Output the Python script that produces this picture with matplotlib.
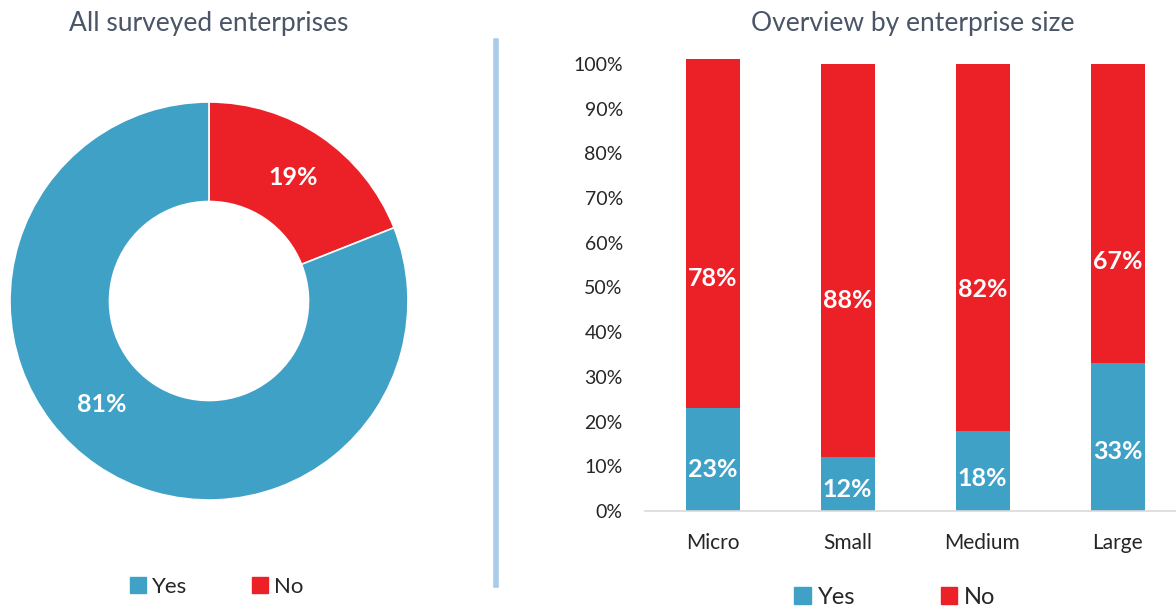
import numpy as np
import matplotlib.pyplot as plt
from matplotlib.patches import Patch

# overall share of enterprises
overall_labels = ["Yes", "No"]
overall_values = [81, 19]

# split by enterprise size
sizes = ["Micro", "Small", "Medium", "Large"]
yes_share = [23, 12, 18, 33]
no_share = [78, 88, 82, 67]

BLUE = "#40a1c7"
RED = "#ec2128"
TITLE_COLOR = "#4a5568"
TEXT_COLOR = "#262626"

plt.rcParams["font.family"] = ["Lato", "DejaVu Sans"]

W, H = 1176, 607
fig = plt.figure(figsize=(W / 100, H / 100), dpi=100)


def px_axes(left, top, width, height):
    return fig.add_axes([left / W, 1 - (top + height) / H, width / W, height / H])


# donut
ax1 = px_axes(10, 102, 398, 398)
ax1.pie(overall_values[::-1], colors=[RED, BLUE], startangle=90,
        counterclock=False, radius=1.0,
        wedgeprops=dict(width=0.5, edgecolor="white", linewidth=1.2))
ax1.set_xlim(-1, 1)
ax1.set_ylim(-1, 1)
ax1.set_aspect("equal")
start = 90.0
for val in overall_values[::-1]:
    sweep = val / 100 * 360
    frac = 0.54 if val > 50 else 0.5
    mid = np.deg2rad(start - sweep * frac)
    ax1.text(0.75 * np.cos(mid), 0.75 * np.sin(mid), f"{val}%", color="white",
             fontsize=18, fontweight="bold", ha="center", va="center")
    start -= sweep

fig.text(209 / W, 1 - 23 / H, "All surveyed enterprises", ha="center", va="center",
         fontsize=19, color=TITLE_COLOR)
fig.legend(handles=[Patch(color=BLUE, label="Yes"), Patch(color=RED, label="No")],
           loc="center", bbox_to_anchor=(217 / W, 1 - 587 / H), ncol=2, frameon=False,
           fontsize=16, handlelength=0.7, handleheight=0.7, handletextpad=0.3,
           columnspacing=2.9, labelcolor=TEXT_COLOR)

# separator
fig.add_artist(plt.Line2D([496 / W, 496 / W], [1 - 41 / H, 1 - 585 / H],
                          color="#a9cbea", linewidth=4))

# stacked bars
ax2 = px_axes(645, 55, 540, 456)
x = np.arange(len(sizes))
ax2.bar(x, yes_share, width=0.4, color=BLUE)
ax2.bar(x, no_share, width=0.4, bottom=yes_share, color=RED)
for i in range(len(sizes)):
    y_mid = yes_share[i] / 2 * 0.8
    n_mid = (yes_share[i] + no_share[i] / 2) * 0.84
    ax2.text(x[i], y_mid, f"{yes_share[i]}%", color="white", fontsize=18,
             fontweight="bold", ha="center", va="center")
    ax2.text(x[i], n_mid, f"{no_share[i]}%", color="white", fontsize=18,
             fontweight="bold", ha="center", va="center")

ax2.set_xlim(-0.5, 3.5)
ax2.set_ylim(0, 102)
ax2.set_yticks(np.arange(0, 101, 10))
ax2.set_yticklabels([f"{v}%" for v in range(0, 101, 10)])
ax2.set_xticks(x)
ax2.set_xticklabels(sizes)
ax2.tick_params(axis="y", length=0, labelsize=14, colors=TEXT_COLOR, pad=16)
ax2.tick_params(axis="x", length=0, labelsize=15, colors=TEXT_COLOR, pad=16)
for side in ["top", "right", "left"]:
    ax2.spines[side].set_visible(False)
ax2.spines["bottom"].set_color("#d9d9d9")
ax2.spines["bottom"].set_linewidth(1.2)

fig.text(913 / W, 1 - 23 / H, "Overview by enterprise size", ha="center", va="center",
         fontsize=19, color=TITLE_COLOR)
fig.legend(handles=[Patch(color=BLUE, label="Yes"), Patch(color=RED, label="No")],
           loc="center", bbox_to_anchor=(895 / W, 1 - 597 / H), ncol=2, frameon=False,
           fontsize=17, handlelength=0.7, handleheight=0.7, handletextpad=0.3,
           columnspacing=3.6, labelcolor=TEXT_COLOR)

fig.savefig("out.png", dpi=100)
